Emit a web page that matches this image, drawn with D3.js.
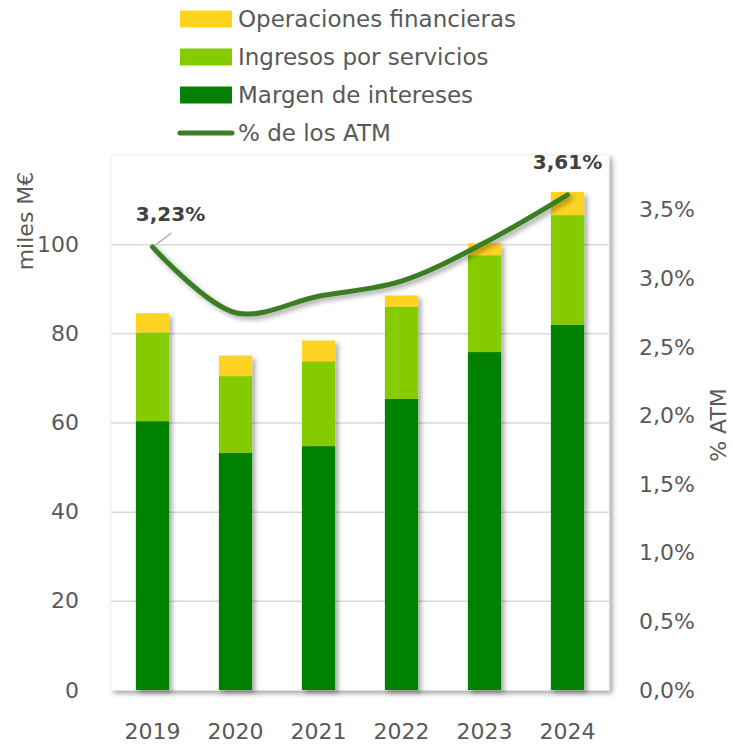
<!DOCTYPE html>
<html>
<head>
<meta charset="utf-8">
<script src="https://cdn.jsdelivr.net/npm/d3@7"></script>
<style>
  body { margin: 0; background: #fff; }
  text { font-family: "DejaVu Sans", sans-serif; }
</style>
</head>
<body>
<div id="chart"></div>
<script>
// Data
const years = ['2019', '2020', '2021', '2022', '2023', '2024'];
const margen = [60.3, 53.2, 54.7, 65.3, 75.8, 81.9];
const servicios = [19.9, 17.2, 19.0, 20.7, 21.7, 24.6];
const operaciones = [4.3, 4.6, 4.7, 2.5, 2.7, 5.2];
const pctATM = [3.23, 2.75, 2.87, 2.98, 3.26, 3.61];
const leftTicks = [0, 20, 40, 60, 80, 100];
const rightTicks = [0, 0.5, 1, 1.5, 2, 2.5, 3, 3.5];
const seriesNames = ['Operaciones financieras', 'Ingresos por servicios', 'Margen de intereses', '% de los ATM'];

const W = 733, H = 748;
const margin = { top: 155, right: 124, bottom: 58, left: 111 };
const width = W - margin.left - margin.right;
const height = H - margin.top - margin.bottom;

const colors = {
    margen: '#068106',
    servicios: '#84cc00',
    operaciones: '#ffd320',
    line: '#3a7d22'
};
const fontSize = '22px';

const root = d3.select('#chart')
    .append('svg')
    .attr('width', W)
    .attr('height', H);

// Shadow filter
const defs = root.append('defs');
const shadow = defs.append('filter')
    .attr('id', 'shadow')
    .attr('x', '-50%').attr('y', '-50%')
    .attr('width', '200%').attr('height', '200%');
shadow.append('feDropShadow')
    .attr('dx', 3).attr('dy', 3)
    .attr('stdDeviation', 2.5)
    .attr('flood-color', '#000')
    .attr('flood-opacity', 0.35);

const svg = root.append('g')
    .attr('transform', `translate(${margin.left},${margin.top})`);

// Scales
const x = d3.scaleBand()
    .domain(years)
    .range([0, width])
    .paddingInner(0.6)
    .paddingOuter(0.3);

const y = d3.scaleLinear()
    .domain([0, 120])
    .range([height, 0]);

const y2 = d3.scaleLinear()
    .domain([0, 3.9])
    .range([height, 0]);

// Plot area box
svg.append('rect')
    .attr('x', 0)
    .attr('y', 0)
    .attr('width', width)
    .attr('height', height)
    .attr('fill', '#fff')
    .attr('stroke', '#f0f0f0')
    .attr('filter', 'url(#shadow)');

// Gridlines
svg.append('g')
    .attr('class', 'grid')
    .call(d3.axisLeft(y)
        .tickValues(leftTicks.slice(1))
        .tickSize(-width)
        .tickFormat(''))
    .call(g => g.select('.domain').remove())
    .call(g => g.selectAll('line').attr('stroke', '#d9d9d9').attr('stroke-width', 1.5));

// Stacked bars
const table = years.map((yr, i) => ({
    year: yr,
    margen: margen[i],
    servicios: servicios[i],
    operaciones: operaciones[i]
}));
const stack = d3.stack().keys(['margen', 'servicios', 'operaciones']);
const layers = stack(table);

const barGroup = svg.append('g').attr('filter', 'url(#shadow)');
layers.forEach(layer => {
    barGroup.append('g')
        .selectAll('rect')
        .data(layer)
        .enter()
        .append('rect')
        .attr('x', d => x(d.data.year))
        .attr('y', d => y(d[1]))
        .attr('width', x.bandwidth())
        .attr('height', d => y(d[0]) - y(d[1]))
        .attr('fill', colors[layer.key]);
});

// Bottom axis line
svg.append('line')
    .attr('x1', -2)
    .attr('x2', width - 2)
    .attr('y1', height)
    .attr('y2', height)
    .attr('stroke', '#000')
    .attr('stroke-width', 2.5)
    .attr('filter', 'url(#shadow)');

// Line
const lineData = years.map((yr, i) => ({ year: yr, value: pctATM[i] }));
const line = d3.line()
    .x(d => x(d.year) + x.bandwidth() / 2)
    .y(d => y2(d.value))
    .curve(d3.curveCatmullRom.alpha(0.5));

svg.append('path')
    .datum(lineData)
    .attr('d', line)
    .attr('fill', 'none')
    .attr('stroke', colors.line)
    .attr('stroke-width', 5)
    .attr('stroke-linecap', 'round')
    .attr('filter', 'url(#shadow)');

// Data labels
const fmtPct = v => d3.format('.2f')(v).replace('.', ',') + '%';
const first = lineData[0];
const last = lineData[lineData.length - 1];
const fx = x(first.year) + x.bandwidth() / 2;
svg.append('line')
    .attr('x1', fx + 3)
    .attr('y1', y2(first.value) - 2)
    .attr('x2', fx + 19)
    .attr('y2', y2(first.value) - 14)
    .attr('stroke', '#a6a6a6')
    .attr('stroke-width', 1.2);

svg.append('text')
    .attr('x', fx + 18)
    .attr('y', y2(first.value) - 26)
    .attr('text-anchor', 'middle')
    .style('font-size', '20px')
    .style('font-weight', 'bold')
    .style('fill', '#404040')
    .text(fmtPct(first.value));

svg.append('text')
    .attr('x', x(last.year) + x.bandwidth() / 2)
    .attr('y', y2(last.value) - 26)
    .attr('text-anchor', 'middle')
    .style('font-size', '20px')
    .style('font-weight', 'bold')
    .style('fill', '#404040')
    .text(fmtPct(last.value));

// Left axis
svg.append('g')
    .attr('class', 'y-axis')
    .call(d3.axisLeft(y).tickValues(leftTicks).tickSize(0).tickPadding(32))
    .call(g => g.select('.domain').remove())
    .call(g => g.selectAll('text')
        .style('font-size', fontSize)
        .style('fill', '#595959')
        .style('font-family', '"DejaVu Sans", sans-serif'));

// Right axis
svg.append('g')
    .attr('class', 'y2-axis')
    .attr('transform', `translate(${width},0)`)
    .call(d3.axisRight(y2)
        .tickValues(rightTicks)
        .tickSize(0)
        .tickPadding(30)
        .tickFormat(d => d3.format('.1f')(d).replace('.', ',') + '%'))
    .call(g => g.select('.domain').remove())
    .call(g => g.selectAll('text')
        .style('font-size', fontSize)
        .style('fill', '#595959')
        .style('font-family', '"DejaVu Sans", sans-serif'));

// X axis labels
svg.append('g')
    .attr('class', 'x-axis')
    .attr('transform', `translate(0,${height})`)
    .call(d3.axisBottom(x).tickSize(0).tickPadding(33))
    .call(g => g.select('.domain').remove())
    .call(g => g.selectAll('text')
        .style('font-size', fontSize)
        .style('fill', '#595959')
        .style('font-family', '"DejaVu Sans", sans-serif'));

// Axis titles
root.append('text')
    .attr('transform', 'translate(33,221) rotate(-90)')
    .attr('text-anchor', 'middle')
    .style('font-size', fontSize)
    .style('fill', '#595959')
    .text('miles M€');

root.append('text')
    .attr('transform', 'translate(726,425) rotate(-90)')
    .attr('text-anchor', 'middle')
    .style('font-size', fontSize)
    .style('fill', '#595959')
    .text('% ATM');

// Legend
const legend = root.append('g')
    .attr('class', 'legend')
    .attr('transform', 'translate(180,19)');

const legendColors = [colors.operaciones, colors.servicios, colors.margen, colors.line];
seriesNames.forEach((name, i) => {
    const item = legend.append('g')
        .attr('transform', `translate(0, ${i * 38})`);
    if (i < 3) {
        item.append('rect')
            .attr('x', 0)
            .attr('y', -8.5)
            .attr('width', 52)
            .attr('height', 17)
            .attr('fill', legendColors[i]);
    } else {
        item.append('line')
            .attr('x1', 0)
            .attr('x2', 52)
            .attr('y1', 0)
            .attr('y2', 0)
            .attr('stroke', legendColors[i])
            .attr('stroke-width', 5)
            .attr('stroke-linecap', 'round');
    }
    item.append('text')
        .attr('x', 58)
        .attr('y', 0)
        .attr('dy', '0.35em')
        .style('font-size', '23px')
        .style('fill', '#595959')
        .text(name);
});
</script>
</body>
</html>
